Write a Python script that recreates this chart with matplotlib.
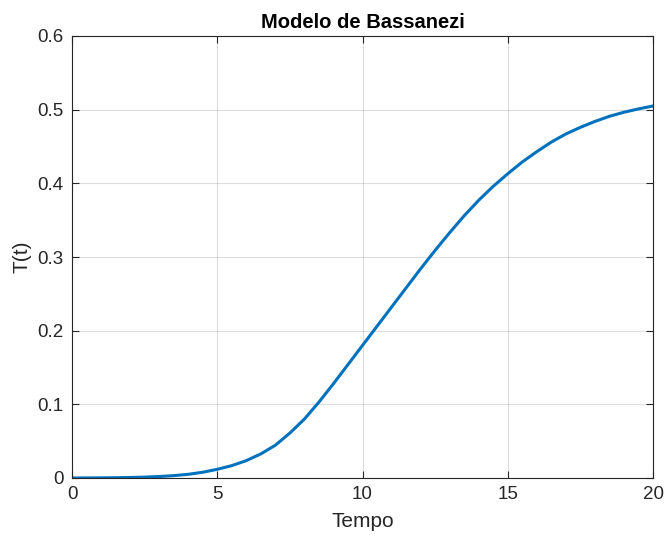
import matplotlib
matplotlib.use("Agg")
import matplotlib.pyplot as plt

# Solution of the Bassanezi model sampled every half time unit
tempo = [0, 0.5, 1, 1.5, 2, 2.5, 3, 3.5, 4, 4.5, 5, 5.5, 6, 6.5, 7, 7.5, 8, 8.5, 9, 9.5,
         10, 10.5, 11, 11.5, 12, 12.5, 13, 13.5, 14, 14.5, 15, 15.5, 16, 16.5, 17, 17.5,
         18, 18.5, 19, 19.5, 20]
T = [0.0, 0.0001, 0.0002, 0.0004, 0.0007, 0.0012, 0.002, 0.0032, 0.005, 0.0078,
     0.0118, 0.0168, 0.0236, 0.0327, 0.0445, 0.061, 0.080, 0.103, 0.128, 0.154,
     0.180, 0.206, 0.232, 0.258, 0.284, 0.309, 0.333, 0.356, 0.377, 0.396,
     0.413, 0.429, 0.443, 0.456, 0.467, 0.476, 0.484, 0.491, 0.4965, 0.501, 0.505]

x_ticks = [0, 5, 10, 15, 20]
y_ticks = [0, 0.1, 0.2, 0.3, 0.4, 0.5, 0.6]

plt.rcParams['font.family'] = ['Liberation Sans', 'DejaVu Sans']
ink = '#262626'

fig = plt.figure(figsize=(6.65, 5.38), dpi=100)
ax = fig.add_axes([72 / 665, 60 / 538, 581 / 665, 442 / 538])

ax.plot(tempo, T, color='#0072BD', linewidth=2.2, solid_capstyle='round',
        solid_joinstyle='round')

ax.set_xlim(0, 20)
ax.set_ylim(0, 0.6)
ax.set_xticks(x_ticks)
ax.set_yticks(y_ticks)
ax.set_xticklabels([f'{v:g}' for v in x_ticks])
ax.set_yticklabels([f'{v:g}' for v in y_ticks])

ax.grid(True, color=ink, alpha=0.15, linewidth=0.8)
ax.set_axisbelow(True)
ax.tick_params(direction='in', length=5, width=0.8, colors=ink, labelsize=13.5,
               top=True, right=True, pad=6)
for s in ax.spines.values():
    s.set_color(ink)
    s.set_linewidth(0.8)

ax.set_xlabel('Tempo', fontsize=15, color=ink, labelpad=6)
ax.set_ylabel('T(t)', fontsize=15, color=ink, labelpad=4)
ax.set_title('Modelo de Bassanezi', fontsize=14.5, fontweight='bold', color='black', pad=6)

fig.savefig('out.png', dpi=100, facecolor='white')
